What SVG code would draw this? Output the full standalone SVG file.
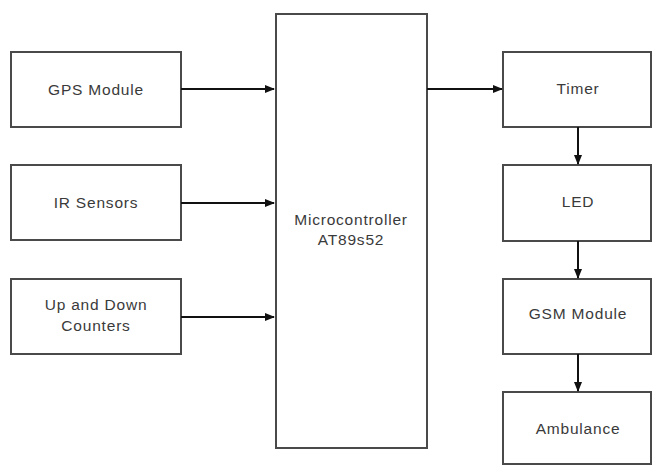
<svg xmlns="http://www.w3.org/2000/svg" width="653" height="466" viewBox="0 0 653 466">
<defs>
<style>
.box{fill:#fff;stroke:#4a4a4a;stroke-width:2}
.lbl{font-family:"Liberation Sans",Arial,sans-serif;font-size:15.5px;letter-spacing:0.8px;fill:#3a3a3a;text-anchor:middle}
.ln{stroke:#111;stroke-width:2;fill:none}
</style>
<marker id="ah" markerWidth="10" markerHeight="10" refX="9" refY="5" orient="auto" markerUnits="userSpaceOnUse">
<path d="M0,1 L10,5 L0,9 Z" fill="#111"/>
</marker>
</defs>
<rect width="653" height="466" fill="#fff"/>
<g id="gps"><rect class="box" x="11" y="52" width="170" height="75"/><text class="lbl" x="96" y="95">GPS Module</text></g>
<g id="ir"><rect class="box" x="11" y="165" width="170" height="75"/><text class="lbl" x="96" y="208">IR Sensors</text></g>
<g id="counters"><rect class="box" x="11" y="279" width="170" height="75"/><text class="lbl" x="96" y="310">Up and Down</text><text class="lbl" x="96" y="331">Counters</text></g>
<g id="mcu"><rect class="box" x="276" y="14" width="151" height="434"/><text class="lbl" x="351" y="225">Microcontroller</text><text class="lbl" x="351" y="245">AT89s52</text></g>
<g id="timer"><rect class="box" x="503" y="52" width="148" height="75"/><text class="lbl" x="578" y="94">Timer</text></g>
<g id="led"><rect class="box" x="503" y="165" width="148" height="76"/><text class="lbl" x="578" y="207">LED</text></g>
<g id="gsm"><rect class="box" x="503" y="279" width="148" height="75"/><text class="lbl" x="578" y="319">GSM Module</text></g>
<g id="ambulance"><rect class="box" x="503" y="392" width="148" height="72"/><text class="lbl" x="578" y="434">Ambulance</text></g>
<g id="connectors">
<line class="ln" x1="181" y1="89" x2="274" y2="89" marker-end="url(#ah)"/>
<line class="ln" x1="181" y1="203" x2="274" y2="203" marker-end="url(#ah)"/>
<line class="ln" x1="181" y1="317" x2="274" y2="317" marker-end="url(#ah)"/>
<line class="ln" x1="427" y1="89" x2="502" y2="89" marker-end="url(#ah)"/>
<line class="ln" x1="578" y1="127" x2="578" y2="164" marker-end="url(#ah)"/>
<line class="ln" x1="578" y1="241" x2="578" y2="278" marker-end="url(#ah)"/>
<line class="ln" x1="578" y1="354" x2="578" y2="391" marker-end="url(#ah)"/>
</g>
</svg>
